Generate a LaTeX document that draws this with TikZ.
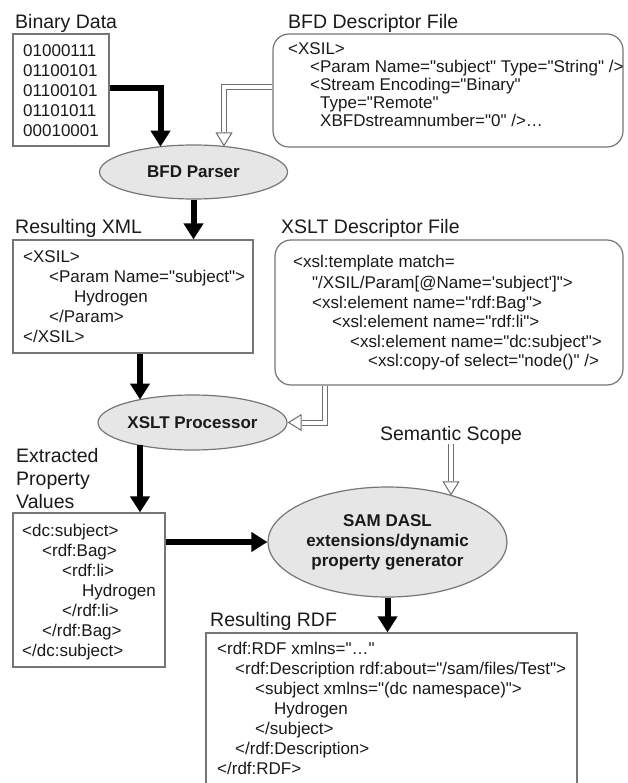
\documentclass[tikz,border=0pt]{standalone}
\usepackage{fontspec}
\setmainfont{Liberation Sans}[Ligatures=TeXOff]
\usetikzlibrary{arrows.meta,shapes.geometric,calc}
\definecolor{boxgray}{HTML}{767676}
\definecolor{ellgray}{HTML}{E6E6E6}
\definecolor{hgray}{HTML}{6E6E6E}
\definecolor{txt}{HTML}{1A1A1A}
\begin{document}
\begin{tikzpicture}[x=1pt,y=-1pt,
  code/.style={anchor=base west, inner sep=0pt, text=txt, font=\fontsize{17}{20}\selectfont},
  lbl/.style={anchor=base west, inner sep=0pt, text=txt, font=\fontsize{19.5}{23}\selectfont},
  box/.style={draw=boxgray, line width=1.2pt, fill=white, inner sep=0pt},
  rbox/.style={box, rounded corners=16pt},
  ell/.style={ellipse, draw=boxgray, fill=ellgray, line width=1.2pt, inner sep=0pt, text=txt,
              font=\bfseries\fontsize{17}{20}\selectfont, align=center},
  thickarrow/.style={line width=6pt, -{Triangle[length=16pt,width=19pt]}},
  hollowline/.style={draw=hgray, line width=1pt, double=white, double distance=4pt},
  hollowtip/.style={draw=hgray, line width=1pt, -{Triangle[length=14pt,width=17pt,fill=white]}}
]
\useasboundingbox (0,0) rectangle (627,783);

% ---------- boxes ----------
\node[box, minimum width=96pt, minimum height=112pt] (bin) at (61,90) {};
\node[rbox, minimum width=350pt, minimum height=113pt] (bfd) at (448,90.5) {};
\node[box, minimum width=240pt, minimum height=113pt] (xml) at (133,296.5) {};
\node[rbox, minimum width=348pt, minimum height=145pt] (xslt) at (449,312.5) {};
\node[box, minimum width=152pt, minimum height=154pt] (ext) at (89,590) {};
\node[box, minimum width=371pt, minimum height=170pt] (rdf) at (391.5,718) {};

% ---------- ellipses ----------
\node[ell, minimum width=188pt, minimum height=54pt] (parser) at (193.5,172) {BFD Parser};
\node[ell, minimum width=189pt, minimum height=55pt] (xp) at (192.5,422.5) {XSLT Processor};
\node[ell, minimum width=239pt, minimum height=110pt] (sam) at (387.5,542)
  {SAM DASL\\extensions/dynamic\\property generator};

% ---------- labels ----------
\node[lbl] (binlbl) at (15,29) {Binary Data};
\node[lbl] (bfdlbl) at (288,29) {BFD Descriptor File};
\node[lbl] (xmllbl) at (15,234) {Resulting XML};
\node[lbl] (xsltlbl) at (281,234) {XSLT Descriptor File};
\node[lbl] (extlbl1) at (16,462) {Extracted};
\node[lbl] (extlbl2) at (16,485) {Property};
\node[lbl] (extlbl3) at (16,508) {Values};
\node[lbl] (rdflbl) at (210,626) {Resulting RDF};
\node[lbl, anchor=base] (sem) at (451,440) {Semantic Scope};

% ---------- binary data ----------
\node[code] (b1) at (23,57) {01000111};
\node[code] (b2) at (23,77) {01100101};
\node[code] (b3) at (23,97) {01100101};
\node[code] (b4) at (23,117) {01101011};
\node[code] (b5) at (23,137) {00010001};

% ---------- BFD descriptor ----------
\node[code] (f1) at (288,55) {<XSIL>};
\node[code] (f2) at (310,73) {<Param Name="subject" Type="String" />};
\node[code] (f3) at (310,91) {<Stream Encoding="Binary"};
\node[code] (f4) at (320,109) {Type="Remote"};
\node[code] (f5) at (320,127) {XBFDstreamnumber="0" />…};

% ---------- resulting XML ----------
\node[code] (x1) at (23,262) {<XSIL>};
\node[code] (x2) at (49,282) {<Param Name="subject">};
\node[code] (x3) at (74,302) {Hydrogen};
\node[code] (x4) at (49,322) {</Param>};
\node[code] (x5) at (23,342) {</XSIL>};

% ---------- XSLT descriptor ----------
\node[code] (s1) at (293,268) {<xsl:template match=};
\node[code] (s2) at (312,288) {"/XSIL/Param[@Name='subject']">};
\node[code] (s3) at (312,308) {<xsl:element name="rdf:Bag">};
\node[code] (s4) at (332,327) {<xsl:element name="rdf:li">};
\node[code] (s5) at (350,347) {<xsl:element name="dc:subject">};
\node[code] (s6) at (368,366) {<xsl:copy-of select="node()" />};

% ---------- extracted values ----------
\node[code] (e1) at (22,536) {<dc:subject>};
\node[code] (e2) at (42,556) {<rdf:Bag>};
\node[code] (e3) at (62,576) {<rdf:li>};
\node[code] (e4) at (82,596) {Hydrogen};
\node[code] (e5) at (62,616) {</rdf:li>};
\node[code] (e6) at (42,636) {</rdf:Bag>};
\node[code] (e7) at (22,656) {</dc:subject>};

% ---------- resulting RDF ----------
\node[code] (r1) at (217,654) {<rdf:RDF xmlns="…"};
\node[code] (r2) at (235,674) {<rdf:Description rdf:about="/sam/files/Test">};
\node[code] (r3) at (255,694) {<subject xmlns="(dc namespace)">};
\node[code] (r4) at (274,714) {Hydrogen};
\node[code] (r5) at (255,734) {</subject>};
\node[code] (r6) at (235,754) {</rdf:Description>};
\node[code] (r7) at (217,774) {</rdf:RDF>};

% ---------- helper coordinates on ellipse borders ----------
\coordinate (pin1) at ($(parser.center)+(-33,-25.3)$);
\coordinate (pin2) at ($(parser.center)+(30.5,-25.5)$);
\coordinate (pin2b) at ($(pin2)+(0,-14)$);
\coordinate (xin) at ($(xp.center)+(-52.5,-22.9)$);
\coordinate (xout) at ($(xp.center)+(-52.5,22.9)$);
\coordinate (xa) at (325,0);
\coordinate (xpin) at (xp.east);
\coordinate (xpinb) at ($(xpin)+(14,0)$);
\coordinate (samin) at ($(sam.center)+(63.5,-46.6)$);
\coordinate (saminb) at ($(samin)+(0,-14)$);
\coordinate (bfdout) at ($(bfd.west)+(0,-3)$);
\coordinate (binout) at ($(bin.east)+(0,-1.5)$);

% ---------- thick arrows ----------
\draw[thickarrow] (binout) -| (pin1);
\draw[thickarrow] (parser.south) -- (parser.south |- xml.north);
\draw[thickarrow] (xml.south -| xin) -- (xin);
\draw[thickarrow] (xout) -- (xout |- ext.north);
\draw[thickarrow] (ext.east |- sam.west) -- (sam.west);
\draw[thickarrow] (sam.south) -- (sam.south |- rdf.north);

% ---------- hollow arrows ----------
\draw[hollowline] (bfdout) -| (pin2b);
\draw[hollowtip] (pin2b) -- (pin2);
\draw[hollowline] (xslt.south -| xa) |- (xpinb);
\draw[hollowtip] (xpinb) -- (xpin);
\draw[hollowline] (sem.south -| samin) -- (saminb);
\draw[hollowtip] (saminb) -- (samin);
\end{tikzpicture}
\end{document}
